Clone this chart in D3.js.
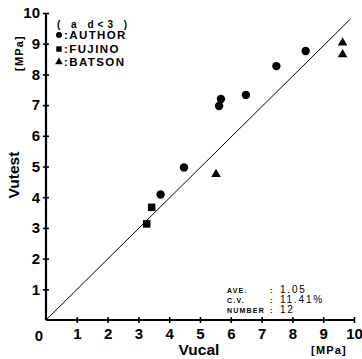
<!DOCTYPE html>
<html><head><meta charset="utf-8">
<script src="https://cdn.jsdelivr.net/npm/d3@7"></script>
<style>
body{margin:0;background:#fff;}
text{font-family:"Liberation Sans",Arial,sans-serif;fill:#000;}
</style></head>
<body><svg id="c" width="362" height="359"></svg>
<script>
const authorX = [3.72, 4.48, 5.62, 5.68, 6.49, 7.48, 8.43];
const authorY = [4.09, 4.97, 6.97, 7.20, 7.33, 8.27, 8.76];
const fujinoX = [3.27, 3.43];
const fujinoY = [3.13, 3.67];
const batsonX = [5.52, 9.63, 9.63];
const batsonY = [4.75, 8.65, 9.03];
const tickValues = [1,2,3,4,5,6,7,8,9,10];
const legendLabels = ["( a d<3 )", ":AUTHOR", ":FUJINO", ":BATSON"];
const statLabels = ["AVE.", "C.V.", "NUMBER"];
const statValues = ["1.05", "11.41%", "12"];

const svg = d3.select("#c");
const x = d3.scaleLinear().domain([0,10]).range([46,354]);
const y = d3.scaleLinear().domain([0,10]).range([320,13]);

// diagonal
svg.append("line").attr("x1",x(0)).attr("y1",y(0)).attr("x2",x(9.88)).attr("y2",y(9.8))
  .attr("stroke","#000").attr("stroke-width",1);

// axes
const xa = svg.append("g").attr("transform",`translate(0,${y(0)})`)
  .call(d3.axisBottom(x).tickValues(tickValues).tickSize(4).tickFormat(d3.format("d")));
const ya = svg.append("g").attr("transform",`translate(${x(0)},0)`)
  .call(d3.axisLeft(y).tickValues(tickValues).tickSize(4).tickFormat(d3.format("d")));
[xa,ya].forEach(g=>{
  g.select(".domain").attr("stroke","#000").attr("stroke-width",2.2);
  g.selectAll("text").attr("font-size",15).attr("font-weight","bold").attr("fill","#000");
});
xa.select(".domain").attr("d",`M${x(0)},0H${x(10)}`);
ya.select(".domain").attr("d",`M0,${y(0)}V${y(10)}`);
xa.selectAll(".tick line").attr("y1",-3).attr("y2",3).attr("stroke-width",1.6);
ya.selectAll(".tick line").attr("x1",-3).attr("x2",3).attr("stroke-width",1.6);
xa.selectAll(".tick text").attr("y",8);
ya.selectAll(".tick text").attr("x",-6);

svg.append("text").attr("x",39).attr("y",341).attr("text-anchor","middle")
  .attr("font-size",15).attr("font-weight","bold").text("0");

// axis titles
svg.append("text").attr("x",199).attr("y",355).attr("text-anchor","middle")
  .attr("font-size",15.5).attr("font-weight","bold").text("Vucal");
svg.append("text").attr("x",329).attr("y",354).attr("text-anchor","middle")
  .attr("font-size",11).attr("font-weight","bold").attr("letter-spacing",1.2).text("[MPa]");
svg.append("text").attr("transform","translate(19,175) rotate(-90)").attr("text-anchor","middle")
  .attr("font-size",15.5).attr("font-weight","bold").text("Vutest");
svg.append("text").attr("transform","translate(23,53) rotate(-90)").attr("text-anchor","middle")
  .attr("font-size",11).attr("font-weight","bold").attr("letter-spacing",1.2).text("[MPa]");

// markers
const circ = authorX.map((v,i)=>({x:v,y:authorY[i]}));
const sq = fujinoX.map((v,i)=>({x:v,y:fujinoY[i]}));
const tri = batsonX.map((v,i)=>({x:v,y:batsonY[i]}));
svg.selectAll(".cir").data(circ).join("circle").attr("cx",d=>x(d.x)).attr("cy",d=>y(d.y)).attr("r",4.2).attr("fill","#000");
svg.selectAll(".sq").data(sq).join("path").attr("d",d3.symbol(d3.symbolSquare,56)).attr("transform",d=>`translate(${x(d.x)},${y(d.y)})`).attr("fill","#000");
svg.selectAll(".tri").data(tri).join("path").attr("d",d3.symbol(d3.symbolTriangle,40)).attr("transform",d=>`translate(${x(d.x)},${y(d.y)})`).attr("fill","#000");

// legend
svg.append("text").attr("x",57).attr("y",28).attr("font-size",10).attr("font-weight","bold").attr("letter-spacing",4).text(legendLabels[0]);
const leg = [{s:"c",t:legendLabels[1],yy:35},{s:"s",t:legendLabels[2],yy:49},{s:"t",t:legendLabels[3],yy:62}];
leg.forEach(l=>{
  if(l.s==="c") svg.append("circle").attr("cx",59).attr("cy",l.yy).attr("r",3).attr("fill","#000");
  if(l.s==="s") svg.append("path").attr("d",d3.symbol(d3.symbolSquare,30)).attr("transform",`translate(59,${l.yy})`);
  if(l.s==="t") svg.append("path").attr("d",d3.symbol(d3.symbolTriangle,26)).attr("transform",`translate(59,${l.yy})`);
  svg.append("text").attr("x",64).attr("y",l.yy+4).attr("font-size",11.5).attr("font-weight","bold").attr("letter-spacing",1.4).text(l.t);
});

// stats
statLabels.forEach((s,i)=>{
  const yy = 293 + i*10;
  svg.append("text").attr("x",227).attr("y",yy).attr("font-size",7).attr("font-weight","bold").attr("letter-spacing",1.2).text(s);
  svg.append("text").attr("x",270).attr("y",yy).attr("font-size",8).attr("font-weight","bold").text(":");
  svg.append("text").attr("x",280).attr("y",yy).attr("font-size",10).attr("letter-spacing",1.8).text(statValues[i]);
});
</script></body></html>
